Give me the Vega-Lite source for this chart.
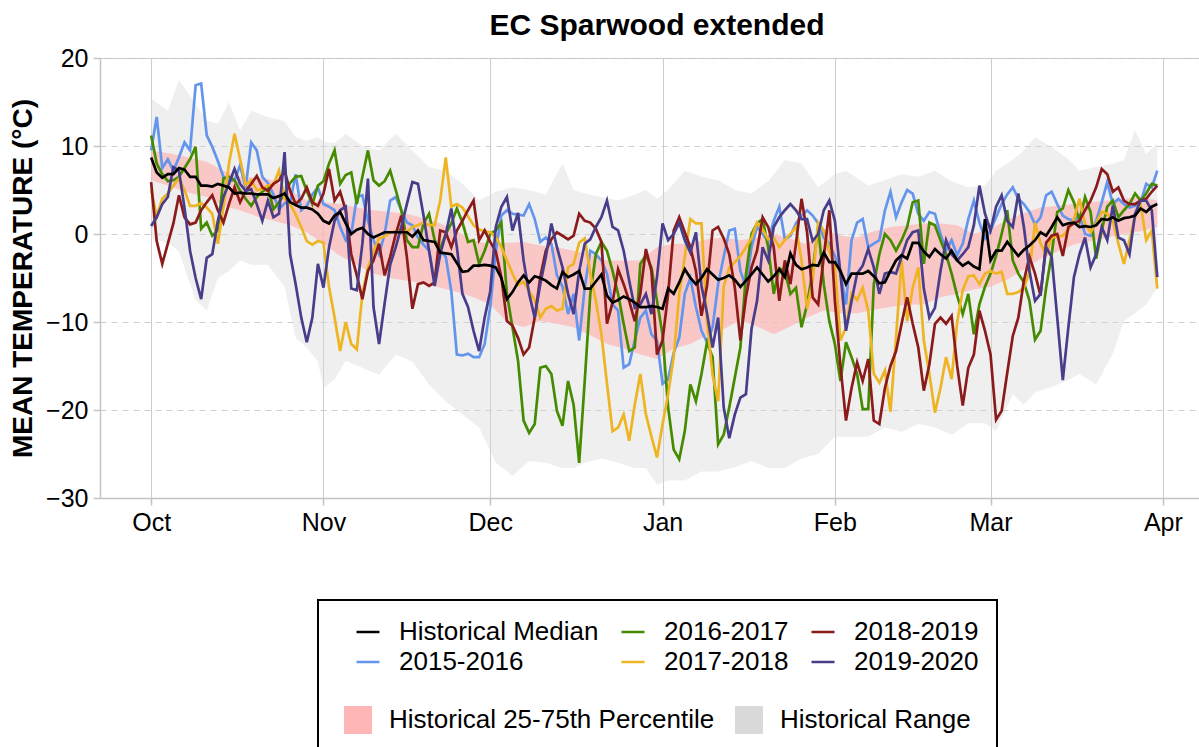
{
  "$schema": "https://vega.github.io/schema/vega-lite/v6.json",
  "width": 1114,
  "height": 440,
  "autosize": {"type": "none"},
  "padding": {"left": 100, "top": 58, "right": 0, "bottom": 249},
  "background": "white",
  "title": {"text": "EC Sparwood extended", "fontSize": 30, "fontWeight": "bold", "color": "black", "anchor": "middle", "offset": 5},
  "config": {
    "font": "Liberation Sans",
    "view": {"stroke": "#c4c4c4", "strokeWidth": 1},
    "axis": {"domainColor": "#c4c4c4", "domainWidth": 1.5, "tickColor": "#c4c4c4", "tickWidth": 1.5, "tickSize": 7, "gridColor": "#cccccc", "gridWidth": 1, "labelColor": "black", "labelFontSize": 25, "labelFont": "Liberation Sans", "titleColor": "black"},
    "axisY": {"gridDash": [6, 5]}
  },
  "datasets": {
    "names": [
      {"k": "b", "s": "2015-2016"}, {"k": "g", "s": "2016-2017"}, {"k": "y", "s": "2017-2018"},
      {"k": "r", "s": "2018-2019"}, {"k": "p", "s": "2019-2020"}, {"k": "m", "s": "Historical Median"}
    ],
    "pct": [
      {"d":0,"lo":6.1,"hi":9.5},{"d":3,"lo":5.5,"hi":9.2},{"d":6,"lo":4.8,"hi":8.8},{"d":10,"lo":4.2,"hi":8.2},{"d":13,"lo":3.2,"hi":7.2},{"d":16,"lo":2.7,"hi":6.5},{"d":19,"lo":2.0,"hi":6.4},{"d":22,"lo":1.5,"hi":6.1},{"d":25,"lo":1.0,"hi":5.0},{"d":28,"lo":0.2,"hi":3.8},
      {"d":31,"lo":-1.1,"hi":3.6},{"d":34,"lo":-2.5,"hi":3.4},{"d":37,"lo":-3.5,"hi":3.0},{"d":40,"lo":-4.5,"hi":2.7},{"d":43,"lo":-5.0,"hi":2.5},{"d":46,"lo":-5.3,"hi":2.3},{"d":49,"lo":-5.6,"hi":1.8},{"d":52,"lo":-6.1,"hi":1.2},{"d":55,"lo":-6.6,"hi":0.3},{"d":58,"lo":-7.2,"hi":-0.7},
      {"d":61,"lo":-8.0,"hi":-1.2},{"d":64,"lo":-10.0,"hi":-1.0},{"d":67,"lo":-10.6,"hi":-0.9},{"d":70,"lo":-9.9,"hi":-1.3},{"d":73,"lo":-10.2,"hi":-1.5},{"d":76,"lo":-10.6,"hi":-1.9},{"d":79,"lo":-11.5,"hi":-2.3},{"d":82,"lo":-12.5,"hi":-3.0},{"d":85,"lo":-13.0,"hi":-3.0},{"d":88,"lo":-13.7,"hi":-3.0},
      {"d":91,"lo":-14.2,"hi":-1.5},{"d":94,"lo":-13.0,"hi":-1.1},{"d":97,"lo":-12.5,"hi":-1.1},{"d":100,"lo":-11.5,"hi":-0.6},{"d":103,"lo":-10.8,"hi":-0.4},{"d":106,"lo":-9.8,"hi":-0.7},{"d":109,"lo":-10.5,"hi":-0.4},{"d":112,"lo":-11.4,"hi":0.0},{"d":115,"lo":-10.5,"hi":-0.5},{"d":118,"lo":-9.5,"hi":-1.2},
      {"d":121,"lo":-8.7,"hi":0.6},{"d":124,"lo":-9.0,"hi":-0.2},{"d":127,"lo":-9.0,"hi":-0.4},{"d":130,"lo":-8.6,"hi":0.3},{"d":133,"lo":-8.3,"hi":0.8},{"d":136,"lo":-8.0,"hi":1.0},{"d":139,"lo":-8.0,"hi":1.2},{"d":142,"lo":-7.2,"hi":1.2},{"d":145,"lo":-6.8,"hi":1.0},{"d":148,"lo":-6.3,"hi":0.0},
      {"d":151,"lo":-6.0,"hi":0.6},{"d":154,"lo":-5.2,"hi":1.6},{"d":157,"lo":-4.0,"hi":2.4},{"d":160,"lo":-2.8,"hi":3.0},{"d":163,"lo":-2.0,"hi":3.2},{"d":166,"lo":-1.2,"hi":3.4},{"d":169,"lo":-0.8,"hi":3.6},{"d":172,"lo":-0.4,"hi":3.8},{"d":175,"lo":0.0,"hi":4.0},{"d":178,"lo":0.3,"hi":4.2},{"d":181,"lo":0.8,"hi":3.8}
    ],
    "rng": [
      {"d":0,"lo":-0.5,"hi":15.4},{"d":3,"lo":-1.0,"hi":14.0},{"d":5,"lo":-2.0,"hi":17.5},{"d":8,"lo":-7.5,"hi":14.8},{"d":10,"lo":-8.7,"hi":12.9},{"d":12,"lo":-5.0,"hi":12.5},{"d":14,"lo":-4.2,"hi":15.0},{"d":16,"lo":-3.0,"hi":11.8},{"d":18,"lo":-3.5,"hi":14.0},{"d":21,"lo":-3.5,"hi":13.3},
      {"d":24,"lo":-6.0,"hi":12.8},{"d":26,"lo":-11.8,"hi":11.0},{"d":28,"lo":-12.9,"hi":10.6},{"d":30,"lo":-14.5,"hi":11.0},{"d":31,"lo":-17.5,"hi":10.5},{"d":33,"lo":-16.5,"hi":10.3},{"d":35,"lo":-14.4,"hi":11.4},{"d":38,"lo":-15.2,"hi":10.0},{"d":41,"lo":-16.0,"hi":9.5},{"d":44,"lo":-13.7,"hi":11.4},
      {"d":47,"lo":-14.5,"hi":9.5},{"d":50,"lo":-17.1,"hi":7.6},{"d":53,"lo":-19.0,"hi":7.2},{"d":56,"lo":-20.5,"hi":5.7},{"d":59,"lo":-22.0,"hi":3.8},{"d":62,"lo":-26.0,"hi":4.8},{"d":65,"lo":-27.5,"hi":5.3},{"d":68,"lo":-25.8,"hi":5.0},{"d":71,"lo":-26.0,"hi":4.5},{"d":74,"lo":-26.6,"hi":8.0},
      {"d":76,"lo":-26.6,"hi":5.0},{"d":78,"lo":-26.0,"hi":4.6},{"d":81,"lo":-25.5,"hi":4.2},{"d":84,"lo":-26.0,"hi":3.8},{"d":87,"lo":-26.6,"hi":4.5},{"d":89,"lo":-26.6,"hi":5.0},{"d":91,"lo":-28.5,"hi":4.0},{"d":93,"lo":-28.0,"hi":5.0},{"d":96,"lo":-28.0,"hi":7.2},{"d":99,"lo":-27.0,"hi":6.5},
      {"d":102,"lo":-27.0,"hi":6.1},{"d":105,"lo":-26.5,"hi":5.0},{"d":108,"lo":-25.8,"hi":4.6},{"d":111,"lo":-26.6,"hi":6.0},{"d":114,"lo":-26.6,"hi":8.4},{"d":117,"lo":-25.5,"hi":8.0},{"d":120,"lo":-25.0,"hi":5.3},{"d":123,"lo":-23.0,"hi":6.8},{"d":125,"lo":-23.1,"hi":7.2},{"d":129,"lo":-23.0,"hi":5.5},
      {"d":132,"lo":-22.0,"hi":6.1},{"d":135,"lo":-22.5,"hi":6.8},{"d":138,"lo":-21.6,"hi":6.5},{"d":141,"lo":-22.0,"hi":7.2},{"d":144,"lo":-22.8,"hi":6.0},{"d":147,"lo":-21.5,"hi":5.3},{"d":150,"lo":-21.5,"hi":5.5},{"d":152,"lo":-22.4,"hi":7.2},{"d":155,"lo":-18.2,"hi":8.4},{"d":157,"lo":-19.4,"hi":9.5},
      {"d":159,"lo":-18.0,"hi":11.0},{"d":162,"lo":-17.4,"hi":9.9},{"d":165,"lo":-16.6,"hi":8.5},{"d":167,"lo":-15.9,"hi":7.2},{"d":170,"lo":-17.1,"hi":7.6},{"d":173,"lo":-13.6,"hi":8.0},{"d":175,"lo":-9.9,"hi":8.4},{"d":177,"lo":-9.0,"hi":11.8},{"d":179,"lo":-8.0,"hi":9.1},{"d":181,"lo":-6.1,"hi":10.3}
    ],
    "daily": [
      {"d":0,"b":9.5,"g":11.2,"y":5,"r":5.9,"p":0.9,"m":8.7},
      {"d":1,"b":13.3,"g":8,"y":2,"r":-0.8,"p":1.9,"m":7},
      {"d":2,"b":7.5,"g":6.8,"y":4,"r":-3.4,"p":3.4,"m":6.4},
      {"d":3,"b":8.5,"g":6,"y":4.6,"r":-1.1,"p":4.2,"m":6.8},
      {"d":4,"b":7.2,"g":6.1,"y":5.5,"r":1.2,"p":7.6,"m":6.8},
      {"d":5,"b":8.7,"g":6.5,"y":6.3,"r":4.4,"p":7.2,"m":7.5},
      {"d":6,"b":10.4,"g":7.5,"y":5,"r":1.9,"p":3,"m":7.3},
      {"d":7,"b":9.5,"g":8.5,"y":3.2,"r":1.1,"p":-1.9,"m":6.5},
      {"d":8,"b":16.9,"g":9.9,"y":3.2,"r":1.3,"p":-5,"m":6.5},
      {"d":9,"b":17.1,"g":0.6,"y":3.5,"r":2.7,"p":-7.4,"m":5.5},
      {"d":10,"b":11.2,"g":1.3,"y":3,"r":3.6,"p":-2.7,"m":5.5},
      {"d":11,"b":9.9,"g":-0.2,"y":2.3,"r":4.4,"p":-2.3,"m":5.4},
      {"d":12,"b":8.3,"g":0.4,"y":-1.1,"r":2.7,"p":1.5,"m":5.7},
      {"d":13,"b":6.5,"g":6.3,"y":3,"r":1.3,"p":4.2,"m":5.5},
      {"d":14,"b":6.1,"g":6.5,"y":8,"r":3.4,"p":5.7,"m":5.3},
      {"d":15,"b":6.1,"g":6.1,"y":11.4,"r":5.3,"p":7.4,"m":4.6},
      {"d":16,"b":7.8,"g":4.9,"y":8.5,"r":3.6,"p":5.7,"m":4.7},
      {"d":17,"b":5.3,"g":4,"y":5.6,"r":4.9,"p":4.9,"m":4.6},
      {"d":18,"b":10.4,"g":3.2,"y":6.1,"r":5.7,"p":5.1,"m":4.6},
      {"d":19,"b":9.5,"g":4.2,"y":5,"r":6.6,"p":3.4,"m":4.5},
      {"d":20,"b":6.5,"g":4.8,"y":5.1,"r":5.3,"p":1.5,"m":4.5},
      {"d":21,"b":5.8,"g":5.3,"y":5.5,"r":4.9,"p":3.8,"m":4.5},
      {"d":22,"b":4.5,"g":2.8,"y":5.6,"r":5.7,"p":1.9,"m":4.1},
      {"d":23,"b":2.8,"g":3.6,"y":7.2,"r":6.1,"p":2.3,"m":4.3},
      {"d":24,"b":3.5,"g":4.6,"y":4,"r":7.2,"p":9.3,"m":4.6},
      {"d":25,"b":3.6,"g":5.8,"y":3.4,"r":4.9,"p":-2.3,"m":3.6},
      {"d":26,"b":6.8,"g":6.5,"y":2.2,"r":3.4,"p":-5.7,"m":3.3},
      {"d":27,"b":2.7,"g":6.6,"y":0.8,"r":4,"p":-9.5,"m":3},
      {"d":28,"b":3.2,"g":4.9,"y":-0.8,"r":5.3,"p":-12.3,"m":3},
      {"d":29,"b":4.5,"g":3.4,"y":-1.2,"r":3.6,"p":-9.5,"m":2.8},
      {"d":30,"b":5.3,"g":5.5,"y":-0.8,"r":3.2,"p":-3.4,"m":2.3},
      {"d":31,"b":3.4,"g":6,"y":-1,"r":4.6,"p":-6.1,"m":1.5},
      {"d":32,"b":3.1,"g":8,"y":-6,"r":7.4,"p":-1.5,"m":1.2},
      {"d":33,"b":2.7,"g":9.5,"y":-9.5,"r":3.8,"p":1.5,"m":2.1},
      {"d":34,"b":0.8,"g":5.7,"y":-13.3,"r":4.8,"p":2.7,"m":2.5},
      {"d":35,"b":-0.7,"g":6.7,"y":-10,"r":2.7,"p":3.1,"m":1.2},
      {"d":36,"b":0,"g":7,"y":-12.5,"r":-2.3,"p":-6.2,"m":0},
      {"d":37,"b":4.2,"g":3.4,"y":-13.1,"r":-4.7,"p":-6.4,"m":0.5},
      {"d":38,"b":4.4,"g":6.5,"y":-6.8,"r":-7.4,"p":-1.1,"m":0.7},
      {"d":39,"b":1.5,"g":9.5,"y":-3.8,"r":-4.2,"p":6.3,"m":0},
      {"d":40,"b":-0.7,"g":6.1,"y":-2,"r":-3,"p":-8.3,"m":-0.4},
      {"d":41,"b":-2.3,"g":5.5,"y":-0.5,"r":-1.1,"p":-12.5,"m":-0.1},
      {"d":42,"b":0,"g":6,"y":-0.3,"r":-4.7,"p":-7.9,"m":0.2},
      {"d":43,"b":3.8,"g":7.2,"y":0.2,"r":-2.6,"p":-3.5,"m":0.2},
      {"d":44,"b":4.2,"g":5,"y":0.3,"r":0,"p":-1.5,"m":0.2},
      {"d":45,"b":2.7,"g":2.7,"y":0.6,"r":2.1,"p":0.8,"m":0.2},
      {"d":46,"b":1.3,"g":-0.7,"y":0.2,"r":-2.6,"p":3.4,"m":0.2},
      {"d":47,"b":1,"g":-1.5,"y":0.8,"r":-8.5,"p":5.9,"m":-0.3},
      {"d":48,"b":-0.4,"g":-1.5,"y":1,"r":-5.7,"p":5.7,"m":0.4},
      {"d":49,"b":-1.2,"g":1.2,"y":1.3,"r":-5.5,"p":2.1,"m":-0.7},
      {"d":50,"b":-1.9,"g":2.3,"y":1,"r":-5.9,"p":-1.9,"m":-0.8},
      {"d":51,"b":-5.3,"g":-0.7,"y":1,"r":-5.5,"p":-5.9,"m":-0.9},
      {"d":52,"b":-1.9,"g":-1.7,"y":3.8,"r":0.4,"p":-2.3,"m":-2.1},
      {"d":53,"b":-2.6,"g":0,"y":8.7,"r":0.2,"p":0,"m":-2.2},
      {"d":54,"b":-6.5,"g":1.2,"y":3.1,"r":-1.5,"p":2.9,"m":-2.3},
      {"d":55,"b":-13.7,"g":2.9,"y":3.4,"r":0.4,"p":-1.5,"m":-3.3},
      {"d":56,"b":-13.8,"g":1.3,"y":3,"r":1.5,"p":-6.8,"m":-4.3},
      {"d":57,"b":-13.6,"g":-0.9,"y":2,"r":2.7,"p":-8.3,"m":-4.2},
      {"d":58,"b":-14,"g":-0.7,"y":1,"r":3.8,"p":-11,"m":-3.6},
      {"d":59,"b":-14,"g":-3.4,"y":0.5,"r":-0.7,"p":-13.3,"m":-3.6},
      {"d":60,"b":-12.5,"g":-1.9,"y":0.3,"r":0.4,"p":-9.5,"m":-3.5},
      {"d":61,"b":-8.3,"g":0,"y":0.2,"r":-0.9,"p":-6.5,"m":-3.6},
      {"d":62,"b":-2,"g":0.4,"y":-0.3,"r":-2,"p":0.8,"m":-3.8},
      {"d":63,"b":2.1,"g":1.3,"y":-1.5,"r":-4.9,"p":3.1,"m":-5},
      {"d":64,"b":2.7,"g":-6.8,"y":-3,"r":-9.9,"p":4.2,"m":-7.4},
      {"d":65,"b":2.3,"g":-10.6,"y":-4.5,"r":-10.4,"p":0.4,"m":-6.6},
      {"d":66,"b":2.2,"g":-14.4,"y":-5.8,"r":-11.8,"p":2.4,"m":-5.5},
      {"d":67,"b":2.1,"g":-21.2,"y":-5.4,"r":-13.7,"p":-3,"m":-4.7},
      {"d":68,"b":3.4,"g":-22.6,"y":-6.5,"r":-12.9,"p":-6.8,"m":-5.5},
      {"d":69,"b":1.7,"g":-21.6,"y":-7.5,"r":-9.5,"p":-9.5,"m":-4.8},
      {"d":70,"b":-0.9,"g":-15.2,"y":-9.5,"r":-4.9,"p":-5.7,"m":-5},
      {"d":71,"b":-0.4,"g":-15,"y":-8.5,"r":-1.9,"p":-2.6,"m":-5.3},
      {"d":72,"b":-1.1,"g":-15.9,"y":-8.2,"r":-0.6,"p":1.2,"m":-5.8},
      {"d":73,"b":-4.7,"g":-20.1,"y":-8.7,"r":0.2,"p":-1.5,"m":-6.2},
      {"d":74,"b":-6,"g":-21.8,"y":-8.5,"r":-0.2,"p":-3.8,"m":-4.3},
      {"d":75,"b":-9.1,"g":-16.7,"y":-3.8,"r":-0.6,"p":-6.8,"m":-4.9},
      {"d":76,"b":-6.8,"g":-19.4,"y":-3.4,"r":-0.2,"p":-9.1,"m":-4.6},
      {"d":77,"b":-12.1,"g":-26,"y":-1,"r":2.3,"p":-4.2,"m":-4.2},
      {"d":78,"b":-6.1,"g":-16.7,"y":-0.5,"r":1.5,"p":-1.1,"m":-6.2},
      {"d":79,"b":-1.9,"g":-6.8,"y":-4.5,"r":1.3,"p":-0.6,"m":-6.2},
      {"d":80,"b":-2.3,"g":-2.3,"y":-7.6,"r":0.6,"p":0.8,"m":-5.4},
      {"d":81,"b":-3,"g":-0.9,"y":-11.4,"r":-0.9,"p":1.9,"m":-4.6},
      {"d":82,"b":-4.5,"g":-1.9,"y":-17,"r":-10.2,"p":3.8,"m":-7},
      {"d":83,"b":-8,"g":-4.2,"y":-22.4,"r":-7.8,"p":0.8,"m":-7.8},
      {"d":84,"b":-8.7,"g":-6.8,"y":-22,"r":-4,"p":0.4,"m":-7.5},
      {"d":85,"b":-15.2,"g":-10.2,"y":-20.5,"r":-5.7,"p":-1.9,"m":-7.1},
      {"d":86,"b":-14.8,"g":-13.3,"y":-23.5,"r":-7.6,"p":-5.3,"m":-7.4},
      {"d":87,"b":-12.1,"g":-12.9,"y":-19.4,"r":-9.9,"p":-8.4,"m":-7.8},
      {"d":88,"b":-9.5,"g":-3.4,"y":-15.9,"r":-6.8,"p":-8,"m":-8.3},
      {"d":89,"b":-8.7,"g":-2.4,"y":-20.5,"r":-1.7,"p":-6.8,"m":-8.3},
      {"d":90,"b":-11.4,"g":-3.8,"y":-23,"r":-4.2,"p":-9.1,"m":-8.2},
      {"d":91,"b":-12.1,"g":-7.6,"y":-25.4,"r":-13.7,"p":-4.9,"m":-8.3},
      {"d":92,"b":-17,"g":-11.4,"y":-21.6,"r":-12.1,"p":1.2,"m":-8.5},
      {"d":93,"b":-16.5,"g":-19.7,"y":-18.2,"r":-6.8,"p":-0.7,"m":-6.2},
      {"d":94,"b":-13.5,"g":-24.5,"y":-14,"r":0.4,"p":0,"m":-6.8},
      {"d":95,"b":-11.8,"g":-25.6,"y":-6.8,"r":1.9,"p":1.3,"m":-5.5},
      {"d":96,"b":-6.8,"g":-22.4,"y":-2.6,"r":0.2,"p":-0.7,"m":-4},
      {"d":97,"b":-5,"g":-17.1,"y":1.7,"r":-1.5,"p":-2.1,"m":-5},
      {"d":98,"b":-8.3,"g":-19,"y":1.2,"r":-4.2,"p":0.2,"m":-5.7},
      {"d":99,"b":-11,"g":-15.9,"y":1.2,"r":-9.3,"p":-5.9,"m":-5},
      {"d":100,"b":-12.3,"g":-12.3,"y":-10,"r":-5.9,"p":-9,"m":-4},
      {"d":101,"b":-10.6,"g":-14,"y":-16,"r":0.4,"p":-12.9,"m":-4.6},
      {"d":102,"b":-5.7,"g":-23.9,"y":-19,"r":0.8,"p":-9.5,"m":-5.2},
      {"d":103,"b":-2.6,"g":-22.8,"y":-6,"r":-0.5,"p":-19.7,"m":-5},
      {"d":104,"b":0.4,"g":-19.7,"y":-3.8,"r":-2.3,"p":-23.2,"m":-4.7},
      {"d":105,"b":0.6,"g":-16.3,"y":-3.2,"r":-6.1,"p":-20.5,"m":-5.2},
      {"d":106,"b":-4.2,"g":-12.9,"y":-2.5,"r":-12.1,"p":-18.6,"m":-6},
      {"d":107,"b":-6,"g":-4.6,"y":-1.5,"r":-7.2,"p":-18.2,"m":-5.3},
      {"d":108,"b":-1.5,"g":0,"y":-0.5,"r":-3.8,"p":-10.8,"m":-4.6},
      {"d":109,"b":0.8,"g":1.2,"y":1.3,"r":-1.9,"p":-7.6,"m":-3.8},
      {"d":110,"b":0,"g":1.7,"y":0.5,"r":1.9,"p":-1.5,"m":-4.6},
      {"d":111,"b":-0.8,"g":-1.5,"y":-0.6,"r":0.8,"p":-3,"m":-5.4},
      {"d":112,"b":1.5,"g":-6.8,"y":-0.4,"r":-1.5,"p":0.8,"m":-4.8},
      {"d":113,"b":3.1,"g":-3.9,"y":-1.5,"r":-7.6,"p":1.9,"m":-4},
      {"d":114,"b":-0.6,"g":-4.2,"y":-0.7,"r":-3,"p":2.7,"m":-4.9},
      {"d":115,"b":-0.2,"g":-6.8,"y":0,"r":-5.7,"p":3.4,"m":-2.2},
      {"d":116,"b":1.2,"g":-6.1,"y":0.8,"r":-1.1,"p":2.7,"m":-3.5},
      {"d":117,"b":2.1,"g":-10.6,"y":-3,"r":4,"p":1.7,"m":-4},
      {"d":118,"b":2.7,"g":-8,"y":-8.5,"r":0.2,"p":1.7,"m":-3.8},
      {"d":119,"b":2.1,"g":-4.2,"y":-5.3,"r":-7.2,"p":-0.8,"m":-3.5},
      {"d":120,"b":1.2,"g":0.8,"y":1.3,"r":-8,"p":0,"m":-3.6},
      {"d":121,"b":-0.4,"g":-5.7,"y":0.4,"r":-2.6,"p":2.7,"m":-2.1},
      {"d":122,"b":-1.1,"g":-9.9,"y":-2,"r":2.7,"p":3.8,"m":-3.2},
      {"d":123,"b":-2.5,"g":-12.5,"y":-3.5,"r":-7.6,"p":1.5,"m":-3.2},
      {"d":124,"b":-4.5,"g":-16.7,"y":-12.1,"r":-15,"p":-4.5,"m":-4.2},
      {"d":125,"b":-8,"g":-12.3,"y":-10.6,"r":-21.2,"p":-11,"m":-5.7},
      {"d":126,"b":-0.7,"g":-14,"y":-6.8,"r":-17.5,"p":-7.6,"m":-4.5},
      {"d":127,"b":1.3,"g":-15.9,"y":-7.5,"r":-14.6,"p":-4.5,"m":-4.5},
      {"d":128,"b":1.7,"g":-19.9,"y":-6.1,"r":-16.7,"p":-3.6,"m":-4.5},
      {"d":129,"b":-1.5,"g":-19.9,"y":-8.7,"r":-14.2,"p":-1.7,"m":-4.2},
      {"d":130,"b":-1.1,"g":-5.7,"y":-15.9,"r":-21.2,"p":-3.8,"m":-4.8},
      {"d":131,"b":-0.7,"g":-2.3,"y":-16.9,"r":-21.6,"p":-6.8,"m":-5.6},
      {"d":132,"b":2.7,"g":0,"y":-15.5,"r":-17.5,"p":-4.5,"m":-5.5},
      {"d":133,"b":4.8,"g":-0.7,"y":-20.2,"r":-15,"p":-4.3,"m":-4.2},
      {"d":134,"b":1.9,"g":-1.9,"y":-11.8,"r":-13.3,"p":-4.5,"m":-3},
      {"d":135,"b":3.6,"g":-0.7,"y":-3,"r":-10.2,"p":-2.6,"m":-2.4},
      {"d":136,"b":5,"g":0.8,"y":-9.9,"r":-7.2,"p":-0.7,"m":-2.8},
      {"d":137,"b":4.6,"g":3.6,"y":-6.1,"r":-10.2,"p":0.2,"m":-1},
      {"d":138,"b":2.3,"g":3.8,"y":-3.8,"r":-12.9,"p":0.4,"m":-1},
      {"d":139,"b":1.5,"g":-3.4,"y":-12.1,"r":-17.8,"p":-6.2,"m":-2},
      {"d":140,"b":2.5,"g":1.3,"y":-15.9,"r":-14.8,"p":-9.5,"m":-2.6},
      {"d":141,"b":2.3,"g":1,"y":-20.3,"r":-10.2,"p":-8.4,"m":-1.7},
      {"d":142,"b":0,"g":-0.7,"y":-17.5,"r":-9.5,"p":-4.2,"m":-2.3},
      {"d":143,"b":-1.9,"g":-2.3,"y":-14,"r":-10.2,"p":-0.7,"m":-2.8},
      {"d":144,"b":-0.7,"g":-4.5,"y":-16.5,"r":-9.3,"p":-2.3,"m":-1.9},
      {"d":145,"b":-2.4,"g":-7,"y":-10,"r":-15,"p":-3,"m":-3},
      {"d":146,"b":-1.1,"g":-9.1,"y":-6.4,"r":-19.5,"p":-2.3,"m":-3.6},
      {"d":147,"b":1.7,"g":-6.8,"y":-4.8,"r":-15.2,"p":-1.5,"m":-3.2},
      {"d":148,"b":3.8,"g":-11.4,"y":-4.7,"r":-13.7,"p":1,"m":-3.7},
      {"d":149,"b":1.3,"g":-8,"y":-5.7,"r":-8.7,"p":5.5,"m":-4},
      {"d":150,"b":-0.5,"g":-6,"y":-4.5,"r":-11,"p":2.3,"m":1.7},
      {"d":151,"b":0.4,"g":-4.5,"y":-4.2,"r":-13.7,"p":0.4,"m":-3},
      {"d":152,"b":1.9,"g":-2.5,"y":-4.5,"r":-21.1,"p":3.1,"m":-1.9},
      {"d":153,"b":3.4,"g":0,"y":-4.3,"r":-20.1,"p":4.4,"m":-1.9},
      {"d":154,"b":4.5,"g":2.7,"y":-6.8,"r":-15.8,"p":1.5,"m":-0.9},
      {"d":155,"b":5.3,"g":-3,"y":-6.8,"r":-11.6,"p":0.8,"m":-1.7},
      {"d":156,"b":4,"g":-4.5,"y":-6.6,"r":-9.5,"p":4.6,"m":-2.5},
      {"d":157,"b":3.4,"g":-5.5,"y":-6.1,"r":-5.3,"p":0.8,"m":-1.8},
      {"d":158,"b":2.5,"g":-7.6,"y":-4.3,"r":-2.6,"p":-4.2,"m":-1.3},
      {"d":159,"b":1.1,"g":-12,"y":1.3,"r":-4.5,"p":-7.6,"m":-0.7},
      {"d":160,"b":1.9,"g":-11,"y":-1.1,"r":-7,"p":-6.8,"m":0.2},
      {"d":161,"b":4.4,"g":-6.1,"y":-2.3,"r":-1,"p":-1.5,"m":-0.2},
      {"d":162,"b":4.8,"g":-2.3,"y":-0.4,"r":-0.2,"p":-2.6,"m":0.8},
      {"d":163,"b":3.4,"g":2.5,"y":-0.3,"r":0,"p":-9.5,"m":1.9},
      {"d":164,"b":2.1,"g":2.9,"y":-0.2,"r":-2.5,"p":-16.6,"m":1},
      {"d":165,"b":1.7,"g":5,"y":0.5,"r":0.8,"p":-10.6,"m":1.2},
      {"d":166,"b":1.5,"g":3.6,"y":1.7,"r":1.2,"p":-4.9,"m":1.3},
      {"d":167,"b":2.1,"g":1.5,"y":4,"r":1.5,"p":-2.3,"m":0.8},
      {"d":168,"b":0,"g":4.2,"y":1.2,"r":2.7,"p":-0.4,"m":0.9},
      {"d":169,"b":-0.2,"g":2.5,"y":0.2,"r":3.8,"p":-3.8,"m":0.8},
      {"d":170,"b":1.5,"g":-2.8,"y":1.2,"r":5.3,"p":-2.3,"m":1},
      {"d":171,"b":3.6,"g":0.4,"y":2.5,"r":7.4,"p":0.8,"m":1.7},
      {"d":172,"b":5.9,"g":3.1,"y":2.3,"r":6.8,"p":-0.7,"m":1.6},
      {"d":173,"b":3.4,"g":3.8,"y":1.5,"r":4.8,"p":3.2,"m":1.9},
      {"d":174,"b":4,"g":1.9,"y":-1.1,"r":5.3,"p":-0.4,"m":1.5},
      {"d":175,"b":3.4,"g":2.7,"y":-3.4,"r":3.8,"p":-0.7,"m":1.8},
      {"d":176,"b":3,"g":3.4,"y":-0.7,"r":3.4,"p":-2.3,"m":1.9},
      {"d":177,"b":3.2,"g":4.6,"y":1.9,"r":3.4,"p":2.3,"m":2.1},
      {"d":178,"b":3.6,"g":3.8,"y":3.4,"r":3.8,"p":3.8,"m":2.9},
      {"d":179,"b":5.7,"g":4.6,"y":-0.7,"r":4,"p":3.8,"m":2.5},
      {"d":180,"b":5.3,"g":5.7,"y":0.4,"r":4.8,"p":2.7,"m":3.1},
      {"d":181,"b":7.2,"g":5.5,"y":-6.2,"r":5.5,"p":-4.9,"m":3.4}
    ]
  },
  "layer": [
    {
      "data": {"name": "rng"},
      "mark": {"type": "area", "opacity": 0.42},
      "encoding": {
        "x": {"field": "d", "type": "quantitative",
              "scale": {"domain": [-9.2, 191.2], "nice": false, "zero": false},
              "axis": {"values": [0, 31, 61, 92, 123, 151, 182], "title": null, "labelPadding": 5,
                       "labelExpr": "datum.value == 0 ? 'Oct' : datum.value == 31 ? 'Nov' : datum.value == 61 ? 'Dec' : datum.value == 92 ? 'Jan' : datum.value == 123 ? 'Feb' : datum.value == 151 ? 'Mar' : 'Apr'"}},
        "y": {"field": "lo", "type": "quantitative",
              "scale": {"domain": [-30, 20], "nice": false, "zero": false},
              "axis": {"values": [-30, -20, -10, 0, 10, 20], "title": "MEAN TEMPERATURE (°C)", "titleFontSize": 28, "titleFontWeight": "bold", "titlePadding": 8, "labelPadding": 5}},
        "y2": {"field": "hi"},
        "fill": {"datum": "Historical Range", "type": "nominal",
                 "scale": {"domain": ["Historical 25-75th Percentile", "Historical Range"], "range": ["#ffb6b6", "#d9d9d9"]},
                 "legend": {"orient": "none", "legendX": 218, "legendY": 542, "direction": "horizontal",
                            "title": " ", "titleFontSize": 10, "titlePadding": 70,
                            "symbolType": "square", "symbolSize": 784, "symbolOpacity": 1, "symbolStrokeWidth": 0,
                            "labelFontSize": 26, "labelColor": "black", "labelOffset": 17, "labelLimit": 500, "columnPadding": 20,
                            "padding": 26, "strokeColor": "black",
                            "encode": {"legend": {"update": {"strokeWidth": {"value": 2}}}}}}
      }
    },
    {
      "data": {"name": "pct"},
      "mark": {"type": "area", "opacity": 0.7},
      "encoding": {
        "x": {"field": "d", "type": "quantitative"},
        "y": {"field": "lo", "type": "quantitative"},
        "y2": {"field": "hi"},
        "fill": {"datum": "Historical 25-75th Percentile", "type": "nominal"}
      }
    },
    {
      "data": {"name": "daily"},
      "transform": [
        {"fold": ["b", "g", "y", "r", "p", "m"], "as": ["k", "v"]},
        {"lookup": "k", "from": {"data": {"name": "names"}, "key": "k", "fields": ["s"]}}
      ],
      "mark": {"type": "line", "strokeWidth": 2.7},
      "encoding": {
        "x": {"field": "d", "type": "quantitative"},
        "y": {"field": "v", "type": "quantitative"},
        "stroke": {"field": "s", "type": "nominal",
                   "scale": {"domain": ["Historical Median", "2015-2016", "2016-2017", "2017-2018", "2018-2019", "2019-2020"],
                             "range": ["#000000", "#6495ED", "#458B00", "#EEB422", "#8B1A1A", "#483D8B"]},
                   "legend": {"orient": "none", "legendX": 255, "legendY": 561, "columns": 3, "title": null,
                              "symbolType": "stroke", "symbolStrokeWidth": 2.5, "symbolSize": 529,
                              "labelFontSize": 26, "labelColor": "black", "labelOffset": 18, "labelLimit": 500,
                              "columnPadding": 17, "rowPadding": 4}}
      }
    }
  ]
}
